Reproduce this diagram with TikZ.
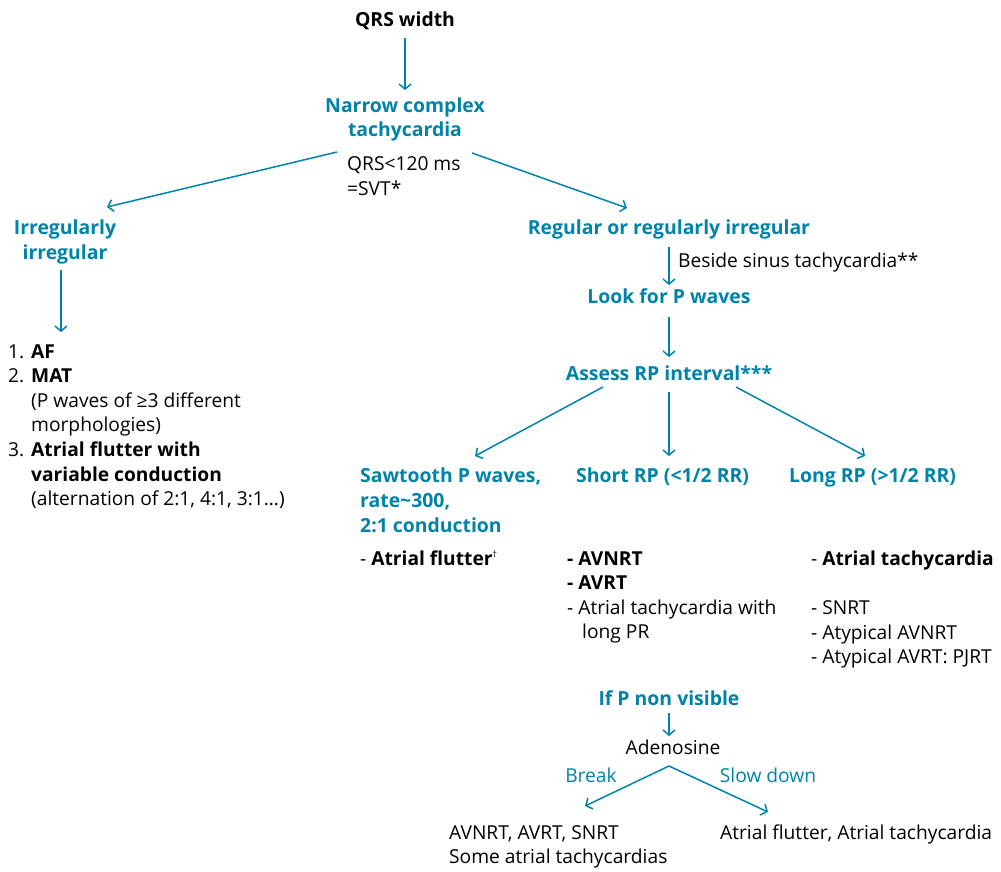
\documentclass[tikz,border=0pt]{standalone}
\usepackage{fontspec}
\setmainfont{Open Sans}
\usetikzlibrary{arrows.meta}
\definecolor{teal}{RGB}{0,131,168}
\begin{document}
\begin{tikzpicture}[x=1pt,y=-1pt,
  txt/.style={inner sep=0pt,font=\fontsize{19.2}{24.6}\selectfont,text=black},
  hd/.style={txt,font=\fontsize{19.4}{24.6}\selectfont\bfseries,text=teal},
  blk/.style={txt,font=\fontsize{19.4}{24.6}\selectfont\bfseries},
  lbl/.style={txt,text=teal},
  arr/.style={draw=teal,line width=1.5pt,-{Straight Barb[length=5pt,width=12pt,line width=1.5pt]}}]
\useasboundingbox (0,0) rectangle (1001,872);

% top of the tree (multi-line nodes sit on the baseline of their last line)
\node[blk,anchor=base] (qrs) at (405,27) {QRS width};
\node[hd,align=center,anchor=base] (nct) at (405,137) {Narrow complex\\tachycardia};
\node[txt,align=left,anchor=base west] (svt) at (347,195) {QRS<120 ms\\=SVT*};

% irregular branch
\node[hd,align=center,anchor=base] (irr) at (65,259) {Irregularly\\irregular};
\node[txt,align=left,anchor=base west] (lst) at (8,505.6)
  {\makebox[23pt][l]{1.}\textbf{AF}\\
   \makebox[23pt][l]{2.}\textbf{MAT}\\
   \hspace*{23pt}(P waves of ≥3 different\\
   \hspace*{23pt}morphologies)\\
   \makebox[23pt][l]{3.}\textbf{Atrial flutter with}\\
   \hspace*{23pt}\textbf{variable conduction}\\
   \hspace*{23pt}(alternation of 2:1, 4:1, 3:1…)};

% regular branch
\node[hd,anchor=base] (reg) at (669,234) {Regular or regularly irregular};
\node[txt,anchor=base west] (bes) at (678,267) {Beside sinus tachycardia**};
\node[hd,anchor=base] (look) at (669,303) {Look for P waves};
\node[hd,anchor=base] (rp) at (669,380) {Assess RP interval***};

\node[hd,align=left,anchor=base west] (saw) at (360,532) {Sawtooth P waves,\\rate\textasciitilde300,\\2:1 conduction};
\node[hd,anchor=base west] (short) at (576,482) {Short RP (<1/2 RR)};
\node[hd,anchor=base west] (long) at (789,482) {Long RP (>1/2 RR)};

\node[txt,anchor=base west] (flut) at (360,565) {- \textbf{Atrial flutter}\textsuperscript{\fontsize{9}{9}\selectfont †}};
\node[txt,align=left,anchor=base west] (shl) at (567,638.8)
  {\textbf{- AVNRT}\\\textbf{- AVRT}\\- Atrial tachycardia with\\\hspace*{15pt}long PR};
\node[txt,align=left,anchor=base west] (lgl) at (811,663.8)
  {- \textbf{Atrial tachycardia}\\[25pt]- SNRT\\- Atypical AVNRT\\- Atypical AVRT: PJRT};

% adenosine test
\node[hd,anchor=base] (nov) at (669,705) {If P non visible};
\node[txt,anchor=base] (ade) at (673,754) {Adenosine};
\node[lbl,anchor=base] (lbrk) at (591,782) {Break};
\node[lbl,anchor=base] (lslw) at (768,782) {Slow down};
\node[txt,align=left,anchor=base west] (brk) at (449,863.6) {AVNRT, AVRT, SNRT\\Some atrial tachycardias};
\node[txt,anchor=base west] (slw) at (720,839) {Atrial flutter, Atrial tachycardia};
\coordinate (apex) at ([shift={(-4,12)}]ade.base);

% connectors
\draw[arr] ([shift={(0,11)}]qrs.base) -- ([shift={(0,-47)}]nct.base);
\draw[arr] ([shift={(-68,15)}]nct.base) -- ([shift={(42,-52)}]irr.base);
\draw[arr] ([shift={(67,16)}]nct.base) -- ([shift={(-42,-26)}]reg.base);
\draw[arr] ([shift={(-4,11)}]irr.base) -- ([shift={(53,-173.6)}]lst.base west);
\draw[arr] ([shift={(0,13)}]reg.base) -- ([shift={(0,-18)}]look.base);
\draw[arr] ([shift={(0,14)}]look.base) -- ([shift={(0,-23)}]rp.base);
\draw[arr] ([shift={(-66,7)}]rp.base) -- ([shift={(115,-76)}]saw.base west);
\draw[arr] ([shift={(0,12)}]rp.base) -- ([shift={(93,-26)}]short.base west);
\draw[arr] ([shift={(67,7)}]rp.base) -- ([shift={(76,-26)}]long.base west);
\draw[arr] ([shift={(0,8)}]nov.base) -- ([shift={(-4,-18)}]ade.base);
\draw[arr] (apex) -- ([shift={(136,-57.6)}]brk.base west);
\draw[arr] (apex) -- ([shift={(48,-27)}]slw.base west);
\end{tikzpicture}
\end{document}
